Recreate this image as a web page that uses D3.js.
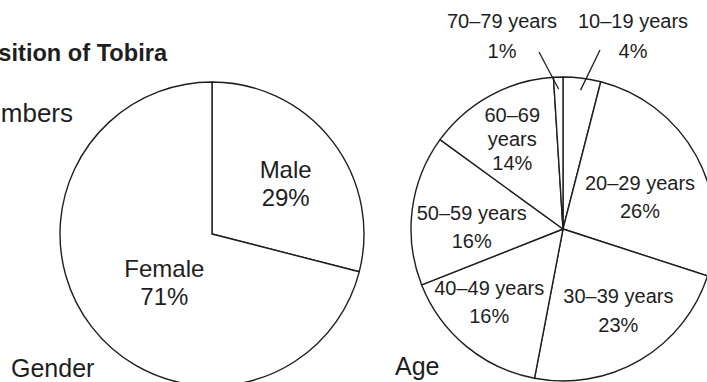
<!DOCTYPE html>
<html>
<head>
<meta charset="utf-8">
<script src="https://cdn.jsdelivr.net/npm/d3@7"></script>
<style>
  html, body { margin: 0; padding: 0; background: #fff; }
  svg { display: block; }
  text { font-family: "Liberation Sans", Arial, Helvetica, sans-serif; fill: #1e1e1e; }
</style>
</head>
<body>
<svg id="chart" width="707" height="382"></svg>
<script>
// Membership breakdown: gender and age groups (percent of members)
const genderCategories = ["Male", "Female"];
const genderValues = [29, 71];

const ageCategories = ["10–19 years", "20–29 years", "30–39 years", "40–49 years",
                       "50–59 years", "60–69 years", "70–79 years"];
const ageValues = [4, 26, 23, 16, 16, 14, 1];

const titleText = "Composition of Tobira";
const subTitleText = "Members";
const genderTitle = "Gender";
const ageTitle = "Age";

const svg = d3.select("#chart");
const ink = "#1e1e1e";

// Layout
const radius = 152;
const genderCenter = [212, 234];
const ageCenter = [563, 229];

// Label placement relative to each slice centroid (layout only)
const genderLabelLayout = {
  "Male":   { dx: -3, dy: 3, lh: 28, size: 24 },
  "Female": { dx: 29, dy: -16, lh: 28, size: 24 }
};
const ageLabelLayout = {
  "20–29 years": { dx: -8, dy: 8, lh: 28 },
  "30–39 years": { dx: 6, dy: -9, lh: 29 },
  "40–49 years": { dx: -12, dy: -9, lh: 28 },
  "50–59 years": { dx: 5, dy: 3, lh: 28 },
  "60–69 years": { dx: -4, dy: -22, lh: 24, split: true }
};
// Thin slices labelled outside the pie with a leader line
const ageOutsideLayout = {
  "10–19 years": { x: 70, y: -201, lx: -33, ly: -8 },
  "70–79 years": { x: -61, y: -201, lx: 37, ly: -6 }
};

const pie = d3.pie().sort(null).value(d => d.value);
const arc = d3.arc().innerRadius(0).outerRadius(radius);
const labelArc = d3.arc().innerRadius(97).outerRadius(97);
const leaderArc = d3.arc().innerRadius(140).outerRadius(140);

function drawPie(center, cats, vals) {
  const g = svg.append("g").attr("transform", `translate(${center[0]},${center[1]})`);
  const data = pie(cats.map((c, i) => ({ cat: c, value: vals[i] })));
  g.selectAll("path.slice")
    .data(data)
    .join("path")
    .attr("class", "slice")
    .attr("d", arc)
    .attr("fill", "#fff")
    .attr("stroke", ink)
    .attr("stroke-width", 1.4)
    .attr("stroke-linejoin", "round");
  return { g, data };
}

// Gender pie
const gp = drawPie(genderCenter, genderCategories, genderValues);
gp.data.forEach(d => {
  const lay = genderLabelLayout[d.data.cat];
  const [cx, cy] = labelArc.centroid(d);
  const t = gp.g.append("text")
    .attr("text-anchor", "middle")
    .attr("font-size", lay.size)
    .attr("transform", `translate(${cx + lay.dx},${cy + lay.dy})`);
  t.append("tspan").attr("x", 0).attr("y", 0).text(d.data.cat);
  t.append("tspan").attr("x", 0).attr("y", lay.lh).text(d.data.value + "%");
});

// Age pie
const ap = drawPie(ageCenter, ageCategories, ageValues);
ap.data.forEach(d => {
  const cat = d.data.cat;
  if (ageLabelLayout[cat]) {
    const lay = ageLabelLayout[cat];
    const [cx, cy] = labelArc.centroid(d);
    const lines = lay.split ? cat.split(" ") : [cat];
    lines.push(d.data.value + "%");
    const t = ap.g.append("text")
      .attr("text-anchor", "middle")
      .attr("font-size", 20)
      .attr("transform", `translate(${cx + lay.dx},${cy + lay.dy})`);
    lines.forEach((ln, i) => t.append("tspan").attr("x", 0).attr("y", i * lay.lh).text(ln));
  } else if (ageOutsideLayout[cat]) {
    const lay = ageOutsideLayout[cat];
    const [ix, iy] = leaderArc.centroid(d);
    ap.g.append("line")
      .attr("x1", ix).attr("y1", iy)
      .attr("x2", lay.x + lay.lx).attr("y2", lay.y + 30 + lay.ly)
      .attr("stroke", ink)
      .attr("stroke-width", 1.3);
    const t = ap.g.append("text")
      .attr("text-anchor", "middle")
      .attr("font-size", 20)
      .attr("transform", `translate(${lay.x},${lay.y})`);
    t.append("tspan").attr("x", 0).attr("y", 0).text(cat);
    t.append("tspan").attr("x", 0).attr("y", 30).text(d.data.value + "%");
  }
});

// Headings (the page is a crop of a wider figure, so the left headings run past the edge)
svg.append("text")
  .attr("x", 167).attr("y", 61)
  .attr("text-anchor", "end")
  .attr("font-size", 23.6)
  .attr("font-weight", "bold")
  .text(titleText);

svg.append("text")
  .attr("x", 73).attr("y", 122)
  .attr("text-anchor", "end")
  .attr("font-size", 26)
  .text(subTitleText);

svg.append("text")
  .attr("x", 11).attr("y", 377)
  .attr("font-size", 25)
  .text(genderTitle);

svg.append("text")
  .attr("x", 395).attr("y", 375)
  .attr("font-size", 25)
  .text(ageTitle);
</script>
</body>
</html>
